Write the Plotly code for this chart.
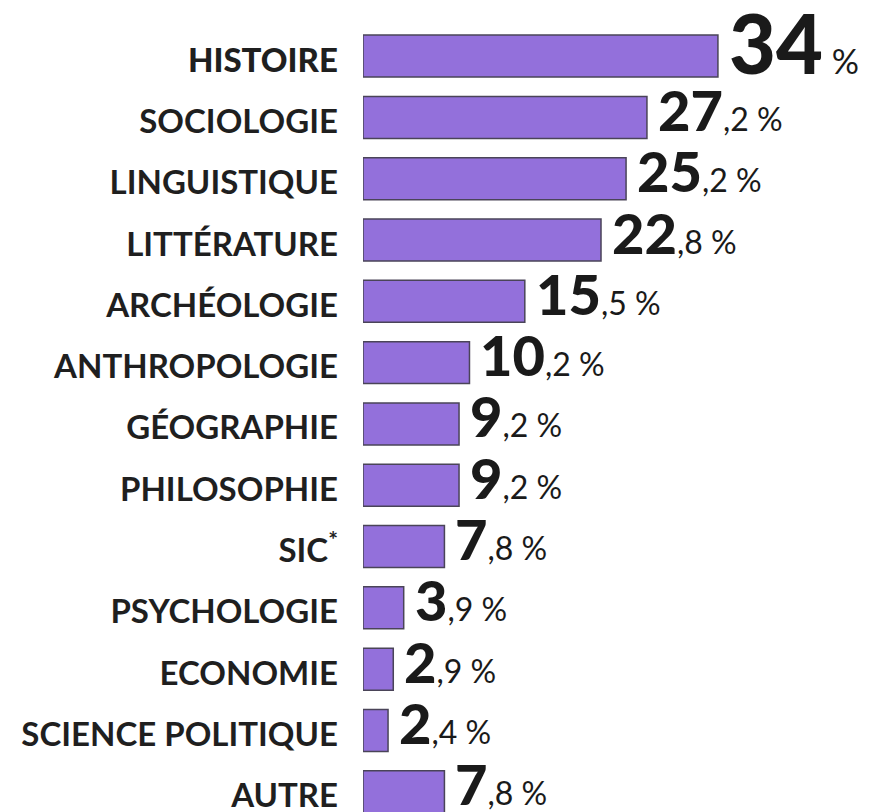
import plotly.graph_objects as go

categories = ["HISTOIRE", "SOCIOLOGIE", "LINGUISTIQUE", "LITTÉRATURE", "ARCHÉOLOGIE",
              "ANTHROPOLOGIE", "GÉOGRAPHIE", "PHILOSOPHIE", "SIC", "PSYCHOLOGIE",
              "ECONOMIE", "SCIENCE POLITIQUE", "AUTRE"]
values = [34, 27.2, 25.2, 22.8, 15.5, 10.2, 9.2, 9.2, 7.8, 3.9, 2.9, 2.4, 7.8]
tick_labels = ["<span style='font-weight:900'>HISTOIRE</span>", "SOCIOLOGIE", "LINGUISTIQUE",
               "LITTÉRATURE", "ARCHÉOLOGIE", "ANTHROPOLOGIE", "GÉOGRAPHIE", "PHILOSOPHIE",
               "SIC<sup>*</sup>", "PSYCHOLOGIE", "ECONOMIE", "SCIENCE POLITIQUE", "AUTRE"]

FONT = "Lato"

fig = go.Figure()
fig.add_trace(go.Bar(
    x=values, y=categories, orientation="h",
    marker=dict(color="#9370DB", line=dict(color="#4a4458", width=1.5)),
    width=0.685, hoverinfo="skip", cliponaxis=False,
))

for i, (cat, v) in enumerate(zip(categories, values)):
    ip = int(v)
    dec = round((v - ip) * 10)
    big = 81 if i == 0 else 56
    small = 34 if i == 0 else 32
    suffix = " %" if dec == 0 else f",{dec} %"
    txt = (f"<span style='font-weight:900;font-size:{big}px'>{ip}</span>"
           f"<span style='font-weight:400;font-size:{small}px'>{suffix}</span>")
    fig.add_annotation(x=v, y=cat, xref="x", yref="y", text=txt, showarrow=False,
                       xanchor="left", yanchor="middle", xshift=9,
                       yshift=14 if i == 0 else 8,
                       font=dict(family=FONT, color="#1a1a1a", size=big))

fig.update_layout(
    width=874, height=812,
    margin=dict(l=363, r=0, t=0, b=0, autoexpand=False),
    paper_bgcolor="white", plot_bgcolor="white",
    showlegend=False,
    xaxis=dict(range=[0, 48.95], visible=False, fixedrange=True, automargin=False),
    yaxis=dict(range=[12.33, -0.915], tickmode="array", tickvals=categories,
               ticktext=tick_labels, showgrid=False, zeroline=False, showline=False,
               ticks="", ticklabelstandoff=24, ticklabelshift=-4, automargin=False,
               fixedrange=True,
               tickfont=dict(family=FONT, size=33, color="#1f1f1f", weight=700)),
)

fig.write_html("out.html", config={"displayModeBar": False, "staticPlot": True},
               post_script="document.body.style.margin='0px';document.body.style.overflow='hidden';")
